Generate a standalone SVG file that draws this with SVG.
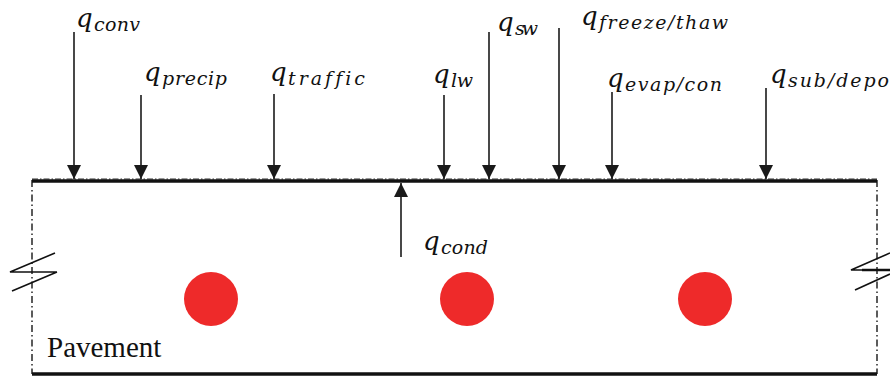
<svg xmlns="http://www.w3.org/2000/svg" width="890" height="376" viewBox="0 0 890 376">
<defs>
<marker id="ah" viewBox="0 0 14 15" refX="14" refY="7" markerWidth="14" markerHeight="15" markerUnits="userSpaceOnUse" orient="auto">
<path d="M0,0 L14,7 L0,14 Z" fill="#1a1a1a"/>
</marker>
</defs>
<style>
.lbl{font-family:"DejaVu Serif","Liberation Serif",serif;font-style:italic;font-size:26px;fill:#111;font-variant-ligatures:none}
.sub{font-size:19px}
.ar{stroke:#1a1a1a;stroke-width:1.6;fill:none;marker-end:url(#ah)}
.dd{stroke:#777;stroke-width:1.5;fill:none;stroke-dasharray:6,2,1.5,2}
.ds{stroke:#333;stroke-width:1.6;fill:none;stroke-dasharray:7,3,1.5,3}
.thick{stroke:#111;stroke-width:3.5;fill:none}
.brk{stroke:#111;stroke-width:1.6;fill:none}
.heat{fill:#ee2a2a}
</style>
<rect width="890" height="376" fill="#fff"/>
<g id="pavement">
<path class="dd" d="M32,179 L877,179"/>
<path class="ds" d="M32,180 L32,374"/>
<path class="ds" d="M877,180 L877,374"/>
<path class="thick" d="M32,181 L877,181"/>
<path class="thick" d="M32,374 L877,374"/>
<text x="47" y="357" font-family="Liberation Serif, serif" font-size="29" fill="#111">Pavement</text>
</g>
<g id="break-left"><path class="brk" d="M55,253 L10,272 L57,272 M57,272 L12,291"/></g>
<g id="break-right"><path class="brk" d="M890,253 L851,270 L890,270 M855,290 L890,274"/><path class="thick" d="M862,270 L890,270" style="stroke-width:2.5"/></g>
<g id="pipe-1"><circle class="heat" cx="211" cy="299" r="27"/></g>
<g id="pipe-2"><circle class="heat" cx="467" cy="299" r="27"/></g>
<g id="pipe-3"><circle class="heat" cx="705" cy="299" r="27"/></g>
<g id="connectors">
<path class="ar" d="M74,32 L74,179"/>
<path class="ar" d="M141,95 L141,179"/>
<path class="ar" d="M274,94 L274,179"/>
<path class="ar" d="M444,95 L444,179"/>
<path class="ar" d="M489,32 L489,179"/>
<path class="ar" d="M559,28 L559,179"/>
<path class="ar" d="M612,92 L612,179"/>
<path class="ar" d="M766,88 L766,179"/>
<path class="ar" d="M401,257 L401,183"/>
</g>
<g id="q-conv"><text class="lbl" x="76" y="27">q<tspan class="sub" x="94" dy="4" textLength="46" lengthAdjust="spacing">conv</tspan></text></g>
<g id="q-precip"><text class="lbl" x="144" y="81">q<tspan class="sub" x="162" dy="4" textLength="65" lengthAdjust="spacing">precip</tspan></text></g>
<g id="q-traffic"><text class="lbl" x="270" y="81">q<tspan class="sub" x="288" dy="4" textLength="77" lengthAdjust="spacing">traffic</tspan></text></g>
<g id="q-lw"><text class="lbl" x="433" y="83">q<tspan class="sub" x="451" dy="4" textLength="22" lengthAdjust="spacing">lw</tspan></text></g>
<g id="q-sw"><text class="lbl" x="497" y="31">q<tspan class="sub" x="515" dy="4" textLength="23" lengthAdjust="spacing">sw</tspan></text></g>
<g id="q-freeze"><text class="lbl" x="581" y="25">q<tspan class="sub" x="599" dy="4" textLength="129" lengthAdjust="spacing">freeze/thaw</tspan></text></g>
<g id="q-evap"><text class="lbl" x="607" y="87">q<tspan class="sub" x="625" dy="4" textLength="97" lengthAdjust="spacing">evap/con</tspan></text></g>
<g id="q-sub"><text class="lbl" x="770" y="83">q<tspan class="sub" x="788" dy="4" textLength="101" lengthAdjust="spacing">sub/depo</tspan></text></g>
<g id="q-cond"><text class="lbl" x="423" y="250">q<tspan class="sub" x="441" dy="4" textLength="47" lengthAdjust="spacing">cond</tspan></text></g>
</svg>
